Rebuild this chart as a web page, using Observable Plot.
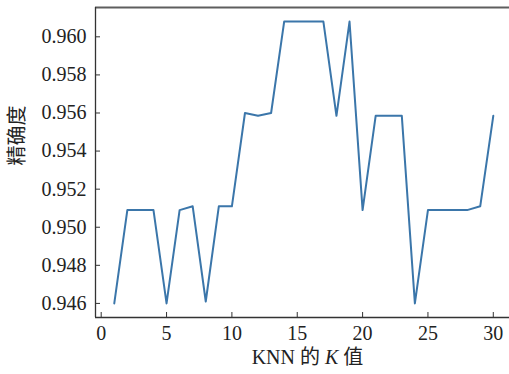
<!DOCTYPE html>
<html>
<head>
<meta charset="utf-8">
<script src="https://cdn.jsdelivr.net/npm/d3@7"></script>
<script src="https://cdn.jsdelivr.net/npm/@observablehq/plot@0.6"></script>
<style>
  html, body { margin: 0; padding: 0; background: #fff; }
</style>
</head>
<body>
<div id="chart"></div>
<script>
const kValues = [1,2,3,4,5,6,7,8,9,10,11,12,13,14,15,16,17,18,19,20,21,22,23,24,25,26,27,28,29,30];
const accuracy = [0.9460,0.9509,0.9509,0.9509,0.9460,0.9509,0.9511,0.9461,0.9511,0.9511,
                  0.9560,0.95585,0.9560,0.9608,0.9608,0.9608,0.9608,0.95585,0.9608,0.9509,
                  0.95585,0.95585,0.95585,0.9460,0.9509,0.9509,0.9509,0.9509,0.9511,0.95585];
const xTicks = [0,5,10,15,20,25,30];
const yTicks = [0.946,0.948,0.950,0.952,0.954,0.956,0.958,0.960];
const xTitle = "KNN 的 K 值";
const yTitle = "精确度";

const xDomain = [-0.436, 31.24];
const yDomain = [0.94526, 0.96154];
const data = kValues.map((k, i) => ({k, acc: accuracy[i]}));
const serifFont = "Liberation Serif, Times New Roman, serif";
const cjkFont = "Noto Sans CJK SC";

const chart = Plot.plot({
  width: 509,
  height: 374,
  marginLeft: 95,
  marginRight: 0,
  marginTop: 7,
  marginBottom: 57,
  style: {fontSize: "20px", color: "#222", background: "#fff", fontFamily: serifFont},
  x: {domain: xDomain},
  y: {domain: yDomain},
  marks: [
    Plot.line(data, {x: "k", y: "acc", stroke: "#3b76aa", strokeWidth: 2}),
    Plot.ruleY([yDomain[1]], {stroke: "#5e5e5e", strokeWidth: 2}),
    Plot.ruleX([xDomain[0]], {stroke: "#333", strokeWidth: 1.3}),
    Plot.ruleY([yDomain[0]], {stroke: "#333", strokeWidth: 1.3}),
    Plot.axisX({ticks: xTicks, tickSize: -5, tickPadding: 13, tickFormat: d => String(d), label: null, stroke: "#333", fontSize: 20}),
    Plot.axisY({ticks: yTicks, tickSize: -5, tickPadding: 14, tickFormat: d => d.toFixed(3), label: null, stroke: "#333", fontSize: 20}),
    Plot.text([xTitle], {text: d => d, frameAnchor: "bottom", dy: 46, dx: 5, fontSize: 20, fill: "#222"}),
    Plot.text([yTitle], {text: d => d, frameAnchor: "left", rotate: -90, dx: -78, dy: 3, fontSize: 20, fill: "#222"})
  ]
});

const SVGNS = "http://www.w3.org/2000/svg";
chart.setAttribute("font-family", serifFont);
chart.querySelectorAll("g").forEach(g => g.setAttribute("font-family", serifFont));
chart.querySelectorAll("text").forEach(t => {
  t.setAttribute("font-family", serifFont);
  if (t.textContent === xTitle) {
    const parts = [["KNN ", serifFont, null], ["的", cjkFont, null], [" ", serifFont, null],
                   ["K", serifFont, "italic"], [" ", serifFont, null], ["值", cjkFont, null]];
    t.textContent = "";
    parts.forEach(([p, f, s]) => {
      const ts = document.createElementNS(SVGNS, "tspan");
      ts.textContent = p;
      ts.setAttribute("font-family", f);
      if (s) ts.setAttribute("font-style", s);
      t.appendChild(ts);
    });
  } else if (t.textContent === yTitle) {
    t.setAttribute("font-family", cjkFont);
  }
});

document.getElementById("chart").appendChild(chart);
</script>
</body>
</html>
